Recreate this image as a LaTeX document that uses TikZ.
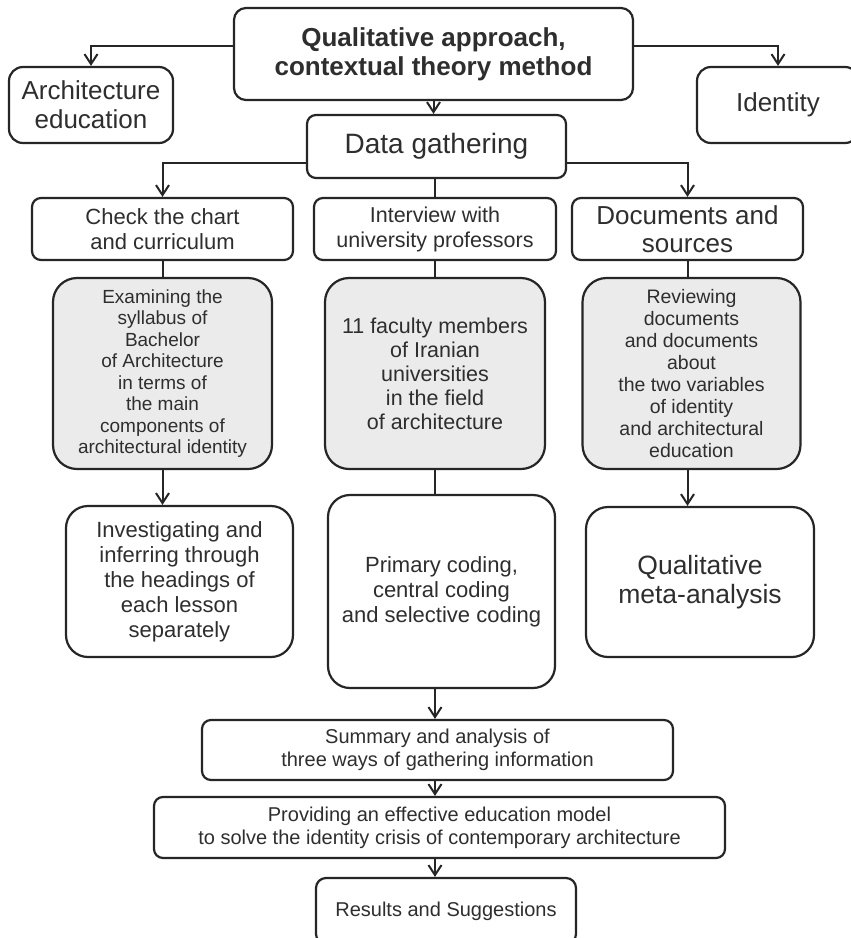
\documentclass[tikz,border=0pt]{standalone}
\usepackage{fontspec}
\setmainfont{Liberation Sans}
\usetikzlibrary{arrows.meta}
\definecolor{lnc}{HTML}{262626}
\definecolor{txc}{HTML}{2E2E2E}
\definecolor{gyc}{HTML}{EBEBEB}
\newcommand{\fs}[2]{\fontsize{#1}{#2}\selectfont}
\begin{document}
\begin{tikzpicture}[x=1pt, y=-1pt,
        bx/.style={draw=lnc, line width=2.2pt, rounded corners=9pt, fill=white,
                   text=txc, align=center, inner sep=0pt},
        gbx/.style={bx, fill=gyc, rounded corners=24pt},
        rbx/.style={bx, rounded corners=22pt},
        ln/.style={draw=lnc, line width=2pt},
        arr/.style={ln, -{Straight Barb[length=10pt, width=13pt, line width=2pt]}}]
      \clip (0,0) rectangle (851,938);
      \fill[white] (0,0) rectangle (851,938);
      % top row
      \node[bx, rounded corners=12pt, minimum width=399pt, minimum height=92pt,
            font=\bfseries\fs{26}{29}] (top) at (433.5,54)
            {Qualitative approach,\\contextual theory method};
      \node[bx, rounded corners=14pt, minimum width=164pt, minimum height=76pt,
            font=\fs{26}{29}] (arch) at (91,105) {Architecture\\education};
      \node[bx, rounded corners=14pt, minimum width=162pt, minimum height=76pt,
            font=\fs{26}{29}] (iden) at (778,105) {Identity};
      \node[bx, minimum width=259pt, minimum height=63pt,
            font=\fs{28}{31}] (dg) at (436.5,146.5) {Data gathering};
      \draw[arr] ([yshift=8pt]top.west) -| (arch);
      \draw[arr] ([yshift=8pt]top.east) -| (iden);
      \draw[arr] (top.south) -- (top.south |- dg.north);
      % three ways
      \node[bx, minimum width=261pt, minimum height=62pt,
            font=\fs{22}{25}] (chk) at (162.5,229) {Check the chart\\and curriculum};
      \node[bx, minimum width=242pt, minimum height=62pt,
            font=\fs{21.5}{25}] (itv) at (435,229) {Interview with\\university professors};
      \node[bx, minimum width=231pt, minimum height=62pt,
            font=\fs{26}{28}] (doc) at (687.5,229) {Documents and\\sources};
      \draw[arr] ([yshift=-16.5pt]dg.west) -| (chk);
      \draw[arr] ([yshift=-16.5pt]dg.east) -| (doc);
      \draw[ln] (itv.north |- dg.south) -- (itv.north);
      % grey boxes
      \node[gbx, minimum width=219pt, minimum height=191pt,
            font=\fs{19}{21.5}] (gl) at (162.5,373.5)
            {Examining the\\syllabus of\\Bachelor\\of Architecture\\in terms of\\the main\\components of\\architectural identity};
      \node[gbx, minimum width=220pt, minimum height=191pt,
            font=\fs{21.5}{24}] (gm) at (435,373.5)
            {11 faculty members\\of Iranian\\universities\\in the field\\of architecture};
      \node[gbx, minimum width=218pt, minimum height=191pt,
            font=\fs{19.5}{22}] (gr) at (691.5,373.5)
            {Reviewing\\documents\\and documents\\about\\the two variables\\of identity\\and architectural\\education};
      \draw[ln] (chk) -- (gl);
      \draw[ln] (itv) -- (gm);
      \draw[ln] (doc.south) -- (doc.south |- gr.north);
      % results of each way
      \node[rbx, minimum width=227pt, minimum height=151pt,
            font=\fs{22}{25}] (lb) at (179.5,581.5)
            {Investigating and\\inferring through\\the headings of\\each lesson\\separately};
      \node[rbx, minimum width=227pt, minimum height=193pt,
            font=\fs{22}{25}] (mb) at (441.5,591.5)
            {Primary coding,\\central coding\\and selective coding};
      \node[rbx, minimum width=228pt, minimum height=150pt,
            font=\fs{26.5}{29}] (rb) at (700,582) {Qualitative\\meta-analysis};
      \draw[arr] (gl.south) -- (gl.south |- lb.north);
      \draw[ln] (gm.south) -- (gm.south |- mb.north);
      \draw[arr] (doc.south |- gr.south) -- (doc.south |- rb.north);
      % final steps
      \node[bx, minimum width=471pt, minimum height=60pt,
            font=\fs{20}{23}] (sum) at (437.5,750)
            {Summary and analysis of\\three ways of gathering information};
      \node[bx, minimum width=571pt, minimum height=61pt,
            font=\fs{20}{23}] (prv) at (439.5,827.5)
            {Providing an effective education model\\to solve the identity crisis of contemporary architecture};
      \node[bx, rounded corners=10pt, minimum width=260pt, minimum height=66pt,
            font=\fs{20}{23}] (res) at (446,911) {Results and Suggestions};
      \draw[arr] (gm.south |- mb.south) -- (gm.south |- sum.north);
      \draw[arr] (gm.south |- sum.south) -- (gm.south |- prv.north);
      \draw[arr] (gm.south |- prv.south) -- (gm.south |- res.north);
    \end{tikzpicture}
\end{document}
